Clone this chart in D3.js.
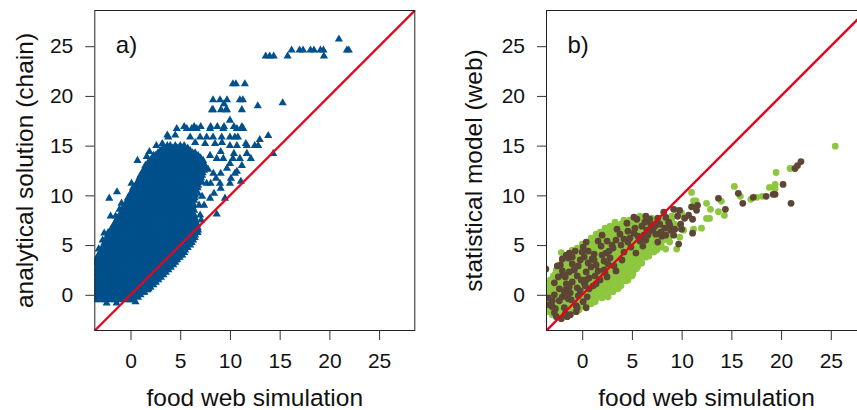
<!DOCTYPE html>
<html><head><meta charset="utf-8">
<script src="https://cdn.jsdelivr.net/npm/d3@7"></script>
<style>body{margin:0;background:#fff}svg{display:block}text{font-family:"Liberation Sans",Arial,Helvetica,sans-serif;fill:#111}</style>
</head><body><svg id="c" width="857" height="410"></svg>
<script>
// ---------- DATA ----------
const tickValues = [0, 5, 10, 15, 20, 25];
const axisRange = [-3.64, 28.64];
const panelTags = ["a)", "b)"];
const xTitles = ["food web simulation", "food web simulation"];
const yTitles = ["analytical solution (chain)", "statistical model (web)"];

// panel a: dense cloud, rows of [y, x values]
const chainRows = [
[-0.5,[-3.5,-3,-2.5,-2,-1.5,-1,-0.5,0,0.3]],
[-0.25,[-3.25,-2.75,-2.25,-1.75,-1.25,-0.75,-0.25,0.25,0.75]],
[0,[-3.5,-3,-2.5,-2,-1.5,-1,-0.5,0,0.5,1]],
[0.25,[-3.25,-2.75,-2.25,-1.75,-1.25,-0.75,-0.25,0.25,0.75,1.25,1.4]],
[0.5,[-3.5,-3,-2.5,-2,-1.5,-1,-0.5,0,0.5,1,1.5,1.7]],
[0.75,[-3.25,-2.75,-2.25,-1.75,-1.25,-0.75,-0.25,0.25,0.75,1.25,1.75,2]],
[1,[-3.5,-3,-2.5,-2,-1.5,-1,-0.5,0,0.5,1,1.5,2,2.3]],
[1.25,[-3.25,-2.75,-2.25,-1.75,-1.25,-0.75,-0.25,0.25,0.75,1.25,1.75,2.25,2.55]],
[1.5,[-3.5,-3,-2.5,-2,-1.5,-1,-0.5,0,0.5,1,1.5,2,2.5,2.8]],
[1.75,[-3.25,-2.75,-2.25,-1.75,-1.25,-0.75,-0.25,0.25,0.75,1.25,1.75,2.25,2.75,3.05]],
[2,[-3.5,-3,-2.5,-2,-1.5,-1,-0.5,0,0.5,1,1.5,2,2.5,3,3.3]],
[2.25,[-3.25,-2.75,-2.25,-1.75,-1.25,-0.75,-0.25,0.25,0.75,1.25,1.75,2.25,2.75,3.25,3.55]],
[2.5,[-3.5,-3,-2.5,-2,-1.5,-1,-0.5,0,0.5,1,1.5,2,2.5,3,3.5,3.8]],
[2.75,[-3.25,-2.75,-2.25,-1.75,-1.25,-0.75,-0.25,0.25,0.75,1.25,1.75,2.25,2.75,3.25,3.75,4.05]],
[3,[-3.5,-3,-2.5,-2,-1.5,-1,-0.5,0,0.5,1,1.5,2,2.5,3,3.5,4,4.3]],
[3.25,[-3.25,-2.75,-2.25,-1.75,-1.25,-0.75,-0.25,0.25,0.75,1.25,1.75,2.25,2.75,3.25,3.75,4.25,4.5]],
[3.5,[-3.5,-3,-2.5,-2,-1.5,-1,-0.5,0,0.5,1,1.5,2,2.5,3,3.5,4,4.5,4.7]],
[3.75,[-3.25,-2.75,-2.25,-1.75,-1.25,-0.75,-0.25,0.25,0.75,1.25,1.75,2.25,2.75,3.25,3.75,4.25,4.75,4.95]],
[4,[-3.2,-3,-2.5,-2,-1.5,-1,-0.5,0,0.5,1,1.5,2,2.5,3,3.5,4,4.5,5,5.2]],
[4.25,[-3.05,-2.75,-2.25,-1.75,-1.25,-0.75,-0.25,0.25,0.75,1.25,1.75,2.25,2.75,3.25,3.75,4.25,4.75,5.25,5.4]],
[4.5,[-2.9,-2.5,-2,-1.5,-1,-0.5,0,0.5,1,1.5,2,2.5,3,3.5,4,4.5,5,5.5]],
[4.75,[-2.8,-2.25,-1.75,-1.25,-0.75,-0.25,0.25,0.75,1.25,1.75,2.25,2.75,3.25,3.75,4.25,4.75,5.25,5.75]],
[5,[-2.7,-2.5,-2,-1.5,-1,-0.5,0,0.5,1,1.5,2,2.5,3,3.5,4,4.5,5,5.5,6]],
[5.25,[-2.6,-2.25,-1.75,-1.25,-0.75,-0.25,0.25,0.75,1.25,1.75,2.25,2.75,3.25,3.75,4.25,4.75,5.25,5.75,6.15]],
[5.5,[-2.5,-2,-1.5,-1,-0.5,0,0.5,1,1.5,2,2.5,3,3.5,4,4.5,5,5.5,6,6.3]],
[5.75,[-2.25,-1.75,-1.25,-0.75,-0.25,0.25,0.75,1.25,1.75,2.25,2.75,3.25,3.75,4.25,4.75,5.25,5.75,6.25,6.45]],
[6,[-2.3,-2,-1.5,-1,-0.5,0,0.5,1,1.5,2,2.5,3,3.5,4,4.5,5,5.5,6,6.5]],
[6.25,[-2.25,-1.75,-1.25,-0.75,-0.25,0.25,0.75,1.25,1.75,2.25,2.75,3.25,3.75,4.25,4.75,5.25,5.75,6.25,6.75]],
[6.5,[-2,-1.5,-1,-0.5,0,0.5,1,1.5,2,2.5,3,3.5,4,4.5,5,5.5,6,6.5,6.8]],
[6.75,[-1.75,-1.25,-0.75,-0.25,0.25,0.75,1.25,1.75,2.25,2.75,3.25,3.75,4.25,4.75,5.25,5.75,6.25,6.75]],
[7,[-1.7,-1.5,-1,-0.5,0,0.5,1,1.5,2,2.5,3,3.5,4,4.5,5,5.5,6,6.5,6.7]],
[7.25,[-1.55,-1.25,-0.75,-0.25,0.25,0.75,1.25,1.75,2.25,2.75,3.25,3.75,4.25,4.75,5.25,5.75,6.25,6.6]],
[7.5,[-1.4,-1,-0.5,0,0.5,1,1.5,2,2.5,3,3.5,4,4.5,5,5.5,6,6.5]],
[7.75,[-1.25,-0.75,-0.25,0.25,0.75,1.25,1.75,2.25,2.75,3.25,3.75,4.25,4.75,5.25,5.75,6.25,6.45]],
[8,[-1,-0.5,0,0.5,1,1.5,2,2.5,3,3.5,4,4.5,5,5.5,6,6.4]],
[8.25,[-0.95,-0.75,-0.25,0.25,0.75,1.25,1.75,2.25,2.75,3.25,3.75,4.25,4.75,5.25,5.75,6.25]],
[8.5,[-0.8,-0.5,0,0.5,1,1.5,2,2.5,3,3.5,4,4.5,5,5.5,6,6.4]],
[8.75,[-0.75,-0.25,0.25,0.75,1.25,1.75,2.25,2.75,3.25,3.75,4.25,4.75,5.25,5.75,6.25]],
[9,[-0.5,0,0.5,1,1.5,2,2.5,3,3.5,4,4.5,5,5.5,6,6.3]],
[9.25,[-0.45,-0.25,0.25,0.75,1.25,1.75,2.25,2.75,3.25,3.75,4.25,4.75,5.25,5.75,6.25]],
[9.5,[-0.3,0,0.5,1,1.5,2,2.5,3,3.5,4,4.5,5,5.5,6,6.4]],
[9.75,[-0.25,0.25,0.75,1.25,1.75,2.25,2.75,3.25,3.75,4.25,4.75,5.25,5.75,6.25,6.45]],
[10,[0,0.5,1,1.5,2,2.5,3,3.5,4,4.5,5,5.5,6,6.5]],
[10.25,[0.05,0.25,0.75,1.25,1.75,2.25,2.75,3.25,3.75,4.25,4.75,5.25,5.75,6.25,6.55]],
[10.5,[0.2,0.5,1,1.5,2,2.5,3,3.5,4,4.5,5,5.5,6,6.5]],
[10.75,[0.25,0.75,1.25,1.75,2.25,2.75,3.25,3.75,4.25,4.75,5.25,5.75,6.25,6.75]],
[11,[0.5,1,1.5,2,2.5,3,3.5,4,4.5,5,5.5,6,6.5,6.8]],
[11.25,[0.75,1.25,1.75,2.25,2.75,3.25,3.75,4.25,4.75,5.25,5.75,6.25,6.75]],
[11.5,[0.8,1,1.5,2,2.5,3,3.5,4,4.5,5,5.5,6,6.5,7]],
[11.75,[0.9,1.25,1.75,2.25,2.75,3.25,3.75,4.25,4.75,5.25,5.75,6.25,6.75,7.1]],
[12,[1,1.5,2,2.5,3,3.5,4,4.5,5,5.5,6,6.5,7,7.2]],
[12.25,[1.25,1.75,2.25,2.75,3.25,3.75,4.25,4.75,5.25,5.75,6.25,6.75,7.25]],
[12.5,[1.3,1.5,2,2.5,3,3.5,4,4.5,5,5.5,6,6.5,7,7.4]],
[12.75,[1.45,1.75,2.25,2.75,3.25,3.75,4.25,4.75,5.25,5.75,6.25,6.75,7.25,7.45]],
[13,[1.5,2,2.5,3,3.5,4,4.5,5,5.5,6,6.5,7,7.5]],
[13.25,[1.75,2.25,2.75,3.25,3.75,4.25,4.75,5.25,5.75,6.25,6.75,7.25]],
[13.5,[2,2.5,3,3.5,4,4.5,5,5.5,6,6.5,7,7.3]],
[13.75,[2.25,2.75,3.25,3.75,4.25,4.75,5.25,5.75,6.25,6.75,7.05]],
[14,[2.3,2.5,3,3.5,4,4.5,5,5.5,6,6.5,6.8]],
[14.25,[2.75,3.25,3.75,4.25,4.75,5.25,5.75,6.25,6.5]],
[14.5,[3,3.5,4,4.5,5,5.5,6]],
[14.75,[3.25,3.75,4.25,4.75,5.25,5.75]],
[15,[3.7,4,4.5,5,5.4]]
];
// panel a: scattered points [x, y]
const chainScatter = [
[13.6,24.0],[14.0,24.0],[14.4,24.0],[15.8,24.0],[16.2,24.6],[17.0,24.6],[17.35,24.6],[18.1,24.6],[18.45,24.6],[19.1,24.6],[19.4,24.6],[19.45,24.0],[20.96,25.7],[21.76,24.6],[21.95,24.6],
[10.3,21.2],[10.6,21.2],[11.5,21.2],
[8.3,19.6],[9.0,19.6],[9.7,19.6],[8.3,18.6],[9.1,18.6],[9.7,18.6],[9.4,19.2],[11.0,19.6],[11.3,19.6],[11.2,18.6],[12.8,19.0],[15.3,19.3],[10.0,17.55],[8.2,18.6],[9.6,18.6],
[4.65,16.7],[5.4,16.9],[5.66,16.7],[6.16,16.7],[6.4,16.9],[6.66,16.7],[7.06,16.9],[8.06,16.9],[8.73,16.9],[9.4,16.9],[10.4,16.9],[11.2,16.9],[8.0,16.7],[9.33,16.7],[10.7,16.7],[11.33,16.7],
[3.7,16.05],[4.5,16.05],[3.8,15.85],[6.0,15.85],[7.0,15.85],[7.66,15.85],[8.3,15.85],[9.17,15.85],[10.0,15.85],[10.5,15.85],[10.8,15.85],[13.0,15.6],[13.85,16.0],
[10.0,15.0],[10.7,15.0],[11.7,15.0],[12.5,15.0],[12.84,15.0],[14.35,14.2],[6.5,15.3],[7.5,15.2],[8.5,15.2],[9.2,15.3],[11.6,15.2],
[9.07,14.4],[10.4,14.2],[11.7,14.2],[12.1,13.7],[8.0,14.0],[8.67,13.7],[9.33,13.7],[10.3,13.7],[11.0,13.7],[10.0,13.2],[11.2,13.0],
[7.8,12.6],[8.33,12.2],[9.07,12.2],[9.7,12.7],[10.7,12.4],[10.1,11.7],[11.1,11.4],[10.5,12.2],
[7.2,11.3],[7.66,11.2],[8.06,11.2],[9.07,10.7],[8.4,10.2],[9.0,11.2],[10.0,11.2],[8.6,11.7],
[6.8,10.2],[7.2,9.9],[8.0,9.7],[9.5,9.7],[6.9,9.0],[7.4,9.0],[8.67,8.1],[7.0,8.0],[7.1,7.5],
[-1.36,10.35],[-2.14,9.7],[-1.5,7.9],[-2.0,7.9],[-0.36,8.45],[-2.64,6.2],[-3.3,3.8],[-3.5,3.2],[-2.4,-0.85],[-1.4,-0.85],[-3.2,4.6],[-2.8,5.5],
[0.7,13.5],[1.64,13.9],[1.9,14.4],[-0.9,9.2],[0.1,11.2],[-1.1,8.6],[2.6,15.0],[3.2,15.2],[0.5,-0.7],[1.0,0.3],[1.8,0.6]
];
// panel b: two series of [x, y]
const webGreen = [
[-3.3,-1.7],[-2.2,-1.9],[-1.1,-1.7],
[-3.5,-1.3],[-2.4,-1.1],[-1.2,-1.3],[0.0,-1.1],
[-3.5,-0.5],[-2.9,-0.7],[-1.7,-0.5],[-0.5,-0.7],[0.7,-0.5],[1.3,-0.7],
[-3.4,0.1],[-2.2,-0.1],[-1.0,0.1],[0.2,-0.1],[0.8,0.1],[1.4,-0.1],[2.0,0.0],[2.6,-0.2],
[-3.5,0.7],[-2.9,0.5],[-1.1,0.7],[0.1,0.5],[1.3,0.7],[1.9,0.5],[2.5,0.6],[3.1,0.5],[3.6,0.6],
[-3.4,1.1],[-2.2,1.3],[-0.4,1.1],[0.8,1.3],[2.0,1.1],[2.6,1.3],[3.2,1.1],[3.8,1.3],[4.4,1.4],
[-2.9,1.9],[-2.3,1.7],[-1.1,1.9],[0.1,1.7],[1.9,1.9],[3.1,1.7],[3.7,1.9],[4.3,1.7],[5.0,1.9],
[-2.6,2.5],[-1.4,2.3],[-0.2,2.5],[1.0,2.3],[2.8,2.5],[4.0,2.3],[4.6,2.5],[5.4,2.6],
[-1.6,3.1],[0.2,2.9],[0.8,3.1],[2.0,2.9],[3.8,3.1],[4.4,2.9],[5.0,3.1],[5.6,2.9],[6.0,3.2],
[-0.8,3.7],[0.4,3.5],[1.6,3.7],[2.2,3.5],[3.4,3.7],[4.6,3.5],[5.2,3.7],[5.8,3.5],[6.4,3.8],
[-2.1,4.25],[-0.6,4.3],[0.6,4.1],[1.8,4.3],[3.0,4.1],[3.6,4.3],[4.8,4.1],[6.0,4.3],[6.6,4.1],[7.2,4.3],
[-0.5,4.7],[0.7,4.9],[1.3,4.7],[2.5,4.9],[3.7,4.7],[4.3,4.9],[5.5,4.7],[6.7,4.9],[7.4,4.7],[8.0,4.8],[8.4,4.6],[9.5,4.6],
[1.0,5.5],[2.2,5.3],[2.8,5.5],[4.0,5.3],[5.2,5.5],[7.0,5.3],[8.2,5.5],[8.8,5.3],[9.8,5.8],
[1.4,6.1],[2.6,5.9],[3.2,6.1],[4.4,5.9],[5.0,6.1],[6.8,5.9],[8.6,6.1],[10.2,6.5],[11.2,6.6],[12.0,6.7],
[2.3,6.7],[2.9,6.5],[4.1,6.7],[4.7,6.5],[5.9,6.7],[7.7,6.5],[9.5,6.7],
[3.3,7.3],[3.9,7.1],[5.1,7.3],[5.7,7.1],[8.1,7.3],[9.3,7.1],
[5.8,7.9],[7.0,7.7],[9.0,7.9],
[9.5,8.5],[10.0,8.2],
[-3.0,-2.0],[-2.4,-2.0],[-1.8,-2.0],[-1.2,-2.0],
[-3.3,-1.5],[-2.7,-1.5],[-2.1,-1.5],[-1.5,-1.5],[-0.9,-1.5],[-0.3,-1.5],
[-3.3,-0.9],[-2.7,-0.9],[-2.1,-0.9],[-1.5,-0.9],[-0.9,-0.9],[-0.3,-0.9],[0.3,-0.9],[0.9,-0.9],
[-3.3,-0.3],[-2.7,-0.3],[-2.1,-0.3],[-1.5,-0.3],[-0.9,-0.3],[-0.3,-0.3],[0.3,-0.3],[0.9,-0.3],[1.5,-0.3],[2.0,-0.3],
[-3.3,0.3],[-2.7,0.3],[-2.1,0.3],[-1.5,0.3],[-0.9,0.3],[-0.3,0.3],[0.3,0.3],[0.9,0.3],[1.5,0.3],[2.1,0.3],[2.7,0.3],[3.1,0.3],
[-3.3,0.9],[-2.7,0.9],[-2.1,0.9],[-1.5,0.9],[-0.9,0.9],[-0.3,0.9],[0.3,0.9],[0.9,0.9],[1.5,0.9],[2.1,0.9],[2.7,0.9],[3.3,0.9],[3.9,0.9],
[-3.2,1.5],[-2.6,1.5],[-2.0,1.5],[-1.4,1.5],[-0.8,1.5],[-0.2,1.5],[0.4,1.5],[1.0,1.5],[1.6,1.5],[2.2,1.5],[2.8,1.5],[3.4,1.5],[4.0,1.5],[4.6,1.5],
[-2.7,2.1],[-2.1,2.1],[-1.5,2.1],[-0.9,2.1],[-0.3,2.1],[0.3,2.1],[0.9,2.1],[1.5,2.1],[2.1,2.1],[2.7,2.1],[3.3,2.1],[3.9,2.1],[4.5,2.1],[5.1,2.1],
[-2.3,2.7],[-1.7,2.7],[-1.1,2.7],[-0.5,2.7],[0.1,2.7],[0.7,2.7],[1.3,2.7],[1.9,2.7],[2.5,2.7],[3.1,2.7],[3.7,2.7],[4.3,2.7],[4.9,2.7],[5.5,2.7],
[-2.0,3.3],[-1.4,3.3],[-0.8,3.3],[-0.2,3.3],[0.4,3.3],[1.0,3.3],[1.6,3.3],[2.2,3.3],[2.8,3.3],[3.4,3.3],[4.0,3.3],[4.6,3.3],[5.2,3.3],[5.8,3.3],
[-1.7,3.9],[-1.1,3.9],[-0.5,3.9],[0.1,3.9],[0.7,3.9],[1.3,3.9],[1.9,3.9],[2.5,3.9],[3.1,3.9],[3.7,3.9],[4.3,3.9],[4.9,3.9],[5.5,3.9],[6.1,3.9],[6.7,3.9],
[-1.0,4.5],[-0.3,4.5],[0.3,4.5],[0.9,4.5],[1.5,4.5],[2.1,4.5],[2.7,4.5],[3.3,4.5],[3.9,4.5],[4.5,4.5],[5.1,4.5],[5.7,4.5],[6.3,4.5],[6.9,4.5],[7.5,4.5],
[0.0,5.1],[0.7,5.1],[1.3,5.1],[1.9,5.1],[2.5,5.1],[3.1,5.1],[3.7,5.1],[4.3,5.1],[4.9,5.1],[5.5,5.1],[6.1,5.1],[6.7,5.1],[7.3,5.1],[7.9,5.1],
[0.9,5.7],[1.5,5.7],[2.1,5.7],[2.7,5.7],[3.3,5.7],[3.9,5.7],[4.5,5.7],[5.1,5.7],[5.7,5.7],[6.3,5.7],[6.9,5.7],[7.5,5.7],[8.1,5.7],[8.7,5.7],
[1.8,6.3],[2.4,6.3],[3.0,6.3],[3.6,6.3],[4.2,6.3],[4.8,6.3],[5.4,6.3],[6.0,6.3],[6.6,6.3],[7.2,6.3],[7.8,6.3],[8.4,6.3],[9.0,6.3],
[2.8,6.9],[3.4,6.9],[4.0,6.9],[4.6,6.9],[5.2,6.9],[5.8,6.9],[6.4,6.9],[7.0,6.9],[7.6,6.9],[8.2,6.9],[8.8,6.9],[9.4,6.9],
[4.2,7.5],[4.8,7.5],[5.4,7.5],[6.0,7.5],[6.6,7.5],[7.2,7.5],[7.8,7.5],[8.4,7.5],[9.0,7.5],
[11.0,10.3],[11.2,9.45],[11.45,9.45],[12.5,9.2],[12.9,8.6],[14.0,9.4],[13.7,8.35],[14.3,7.98],[12.5,7.68],[12.8,7.68],[15.3,10.9],[15.9,9.9],[16.96,9.6],[17.56,9.8],[18.1,9.9],[18.83,10.8],[19.4,11.1],[19.4,10.7],[19.5,12.3],[20.9,12.7],[25.45,14.95]
];
const webBrown = [
[-2.6,-2.2],[-2.1,-2.4],[-1.5,-2.2],
[-2.8,-1.8],[-1.7,-1.9],[-0.6,-1.7],
[-3.0,-1.2],[-1.8,-1.3],[-0.6,-1.1],[0.4,-1.3],
[-2.3,-0.6],[-1.1,-0.5],[0.1,-0.7],
[-2.8,0.0],[-1.6,0.1],[-0.4,-0.1],
[-2.3,0.6],[-1.7,0.5],[-0.5,0.7],[0.7,0.6],
[-2.8,1.2],[-1.6,1.1],[-1.0,1.3],[0.2,1.2],[1.4,1.1],
[-1.7,1.8],[-0.5,1.9],[0.7,1.7],[1.3,1.9],[2.5,1.8],
[-3.65,2.6],[-2.0,2.4],[-0.8,2.5],[0.4,2.3],[1.6,2.4],[2.2,2.5],[3.4,2.4],
[-2.2,3.0],[-1.0,3.1],[-0.4,2.9],[1.4,3.0],[2.6,3.1],[3.2,2.9],
[-2.0,3.6],[-1.4,3.7],[-0.2,3.5],[1.0,3.6],[2.8,3.7],[4.0,3.5],
[-1.3,4.2],[0.0,4.3],[1.2,4.1],[2.4,4.2],[4.2,4.3],[5.4,4.2],
[0.1,4.8],[1.9,4.9],[3.1,4.7],[4.9,4.8],[6.1,4.9],[9.7,5.1],
[0.4,5.3],[1.6,5.4],[3.4,5.5],[4.6,5.3],[5.8,5.4],[6.4,5.5],[7.6,5.3],[11.1,6.2],
[2.0,6.0],[3.8,6.1],[5.6,5.9],[6.2,6.0],[7.4,6.1],[8.0,5.9],[9.2,6.0],
[3.5,6.6],[5.3,6.7],[6.5,6.5],[7.1,6.6],[8.3,6.7],[8.9,6.5],[10.0,6.6],
[4.5,7.2],[6.3,7.3],[6.9,7.1],[7.5,7.2],[8.7,7.3],[9.9,7.1],[10.3,7.7],[11.1,7.6],
[5.2,7.8],[6.4,7.9],[7.6,7.7],[8.4,7.8],[9.6,7.9],
[8.2,8.3],[9.2,8.6],[9.8,8.5],[11.0,8.85],[11.5,8.5],[10.7,8.0],
[-3.3,-1.0],[-3.0,-0.6],[-3.4,-0.3],[-2.7,-1.4],
[-2.0,-0.2],[-1.4,-0.4],[-1.8,0.3],[-1.2,0.2],[-1.3,0.8],
[-0.2,0.4],[0.3,0.9],[-0.1,1.5],[0.4,1.5],
[-1.9,2.0],[-2.4,1.8],[-1.3,2.3],[-2.5,2.9],
[0.9,2.8],[0.6,3.2],[1.2,3.5],[0.2,3.8],[0.6,4.4],
[-1.0,3.8],[-0.7,4.4],[-1.6,4.0],
[2.2,3.4],[2.0,4.0],[2.7,4.4],[3.0,5.0],[2.5,5.4],
[3.9,5.0],[4.2,5.6],[4.8,5.7],[5.2,6.2],[4.6,6.4],
[6.0,5.8],[6.6,6.0],[6.8,6.4],[7.3,6.9],[7.8,7.1],[6.0,6.9],[5.5,7.6],[6.8,7.6],
[7.9,6.3],[8.4,6.0],[8.8,7.0],[9.3,6.6],
[1.8,1.5],[2.3,2.2],[1.1,0.9],[0.5,-0.2],[-0.5,-1.3],[-1.2,-2.0],
[11.6,9.0],[13.7,9.7],[14.4,8.6],[15.7,10.2],[16.15,9.2],[17.2,9.8],[18.5,9.9],[19.2,10.1],[19.4,10.1],[20.2,11.1],[21.0,9.2],[21.4,12.7],[21.65,13.0],[22.0,13.4]
];

// ---------- DRAW ----------
const svg = d3.select("#c");
const COL = {blue:"#00508C", green:"#8DC63F", brown:"#5E4636", red:"#E3061C"};
const chainPoints = chainRows.flatMap(([yv, xs]) => xs.map(xv => [xv, yv])).concat(chainScatter);

const panels = [
  {left:94.3, tag:panelTags[0], xt:xTitles[0], yt:yTitles[0], ytX:33},
  {left:546, tag:panelTags[1], xt:xTitles[1], yt:yTitles[1], ytX:482}
];
const TOP = 10, SIZE = 321;

panels.forEach((p, i) => {
  const x = d3.scaleLinear().domain(axisRange).range([p.left, p.left + SIZE]);
  const y = d3.scaleLinear().domain(axisRange).range([TOP + SIZE, TOP]);
  const g = svg.append("g");
  const clipId = "clip" + i;
  svg.append("clipPath").attr("id", clipId).append("rect")
    .attr("x", p.left).attr("y", TOP).attr("width", SIZE).attr("height", SIZE);
  const plot = g.append("g").attr("clip-path", `url(#${clipId})`);

  if (i === 0) {
    const tri = d3.symbol().type(d3.symbolTriangle).size(29);
    plot.selectAll("path.pt").data(chainPoints).join("path")
      .attr("class", "pt").attr("d", tri)
      .attr("transform", d => `translate(${x(d[0])},${y(d[1])})`)
      .attr("fill", COL.blue);
  } else {
    plot.selectAll("circle.g").data(webGreen).join("circle").attr("class", "g")
      .attr("cx", d => x(d[0])).attr("cy", d => y(d[1])).attr("r", 3.4).attr("fill", COL.green);
    plot.selectAll("circle.b").data(webBrown).join("circle").attr("class", "b")
      .attr("cx", d => x(d[0])).attr("cy", d => y(d[1])).attr("r", 3.4).attr("fill", COL.brown);
  }
  // 1:1 line
  plot.append("line")
    .attr("x1", x(axisRange[0])).attr("y1", y(axisRange[0]))
    .attr("x2", x(axisRange[1])).attr("y2", y(axisRange[1]))
    .attr("stroke", COL.red).attr("stroke-width", 2.3);

  // box
  g.append("rect").attr("x", p.left + 0.5).attr("y", TOP + 0.5)
    .attr("width", SIZE - 1).attr("height", SIZE - 1)
    .attr("fill", "none").attr("stroke", "#222").attr("stroke-width", 1);

  // axes
  const ax = g.append("g").attr("transform", `translate(0,${TOP + SIZE})`)
    .call(d3.axisBottom(x).tickValues(tickValues).tickSize(9).tickSizeOuter(0).tickPadding(13));
  const ay = g.append("g").attr("transform", `translate(${p.left},0)`)
    .call(d3.axisLeft(y).tickValues(tickValues).tickSize(9).tickSizeOuter(0).tickPadding(12));
  [ax, ay].forEach(a => {
    a.select(".domain").remove();
    a.selectAll(".tick line").attr("stroke", "#333");
    a.selectAll(".tick text").style("font-size", "21px").attr("fill", "#111")
      .style("font-family", '"Liberation Sans",Arial,sans-serif');
  });

  // titles
  g.append("text").attr("x", p.left + SIZE / 2).attr("y", 406)
    .attr("text-anchor", "middle").style("font-size", "24.5px").text(p.xt);
  g.append("text").attr("transform", `translate(${p.ytX},${TOP + SIZE / 2}) rotate(-90)`)
    .attr("text-anchor", "middle").style("font-size", "24.5px").text(p.yt);
  g.append("text").attr("x", p.left + 21.5).attr("y", 53)
    .style("font-size", "24px").text(p.tag);
});
</script></body></html>
